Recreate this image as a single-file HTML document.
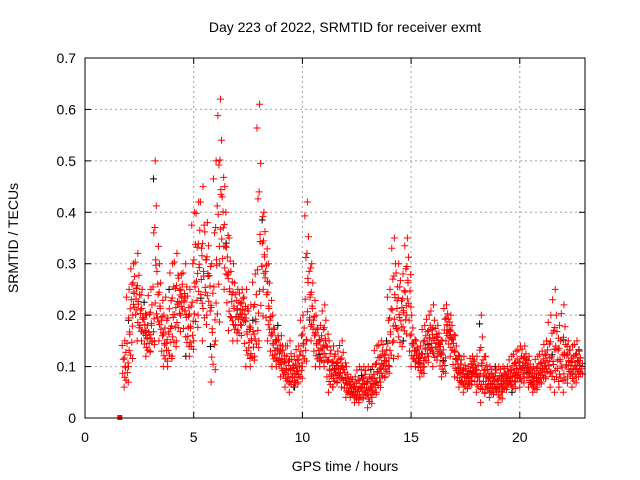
<!DOCTYPE html>
<html><head><meta charset="utf-8"><style>
html,body{margin:0;padding:0;background:#fff;}
svg{display:block;font-family:"Liberation Sans",sans-serif;}
</style></head><body>
<svg id="chart" width="640" height="480">
<text x="345" y="32" font-size="14" text-anchor="middle">Day 223 of 2022, SRMTID for receiver exmt</text>
<text x="345" y="471" font-size="14" text-anchor="middle">GPS time / hours</text>
<text transform="translate(18,238) rotate(-90)" font-size="14" text-anchor="middle">SRMTID / TECUs</text>
<g id="grid"></g>
<g id="ticks"></g>
<g id="marksBlack"></g>
<g id="marks"></g>
<rect x="85" y="58" width="500" height="360" fill="none" stroke="#000" stroke-width="1"/>
</svg>
<script>
const times=[1.8,2.0,2.2,2.4,2.6,2.8,3.0,3.2,3.4,3.6,3.8,4.0,4.2,4.4,4.6,4.8,5.0,5.2,5.4,5.6,5.8,6.0,6.2,6.4,6.6,6.8,7.0,7.2,7.4,7.6,7.8,8.0,8.2,8.4,8.6,8.8,9.0,9.2,9.4,9.6,9.8,10.0,10.2,10.4,10.6,10.8,11.0,11.2,11.4,11.6,11.8,12.0,12.2,12.4,12.6,12.8,13.0,13.2,13.4,13.6,13.8,14.0,14.2,14.4,14.6,14.8,15.0,15.2,15.4,15.6,15.8,16.0,16.2,16.4,16.6,16.8,17.0,17.2,17.4,17.6,17.8,18.0,18.2,18.4,18.6,18.8,19.0,19.2,19.4,19.6,19.8,20.0,20.2,20.4,20.6,20.8,21.0,21.2,21.4,21.6,21.8,22.0,22.2,22.4,22.6,22.7];
const loVals=[0.06,0.10,0.20,0.15,0.15,0.12,0.13,0.15,0.15,0.10,0.10,0.12,0.15,0.20,0.12,0.12,0.15,0.20,0.15,0.20,0.07,0.15,0.30,0.25,0.17,0.15,0.15,0.18,0.10,0.10,0.12,0.15,0.25,0.15,0.10,0.10,0.08,0.06,0.05,0.06,0.07,0.10,0.15,0.15,0.10,0.10,0.10,0.05,0.06,0.07,0.06,0.04,0.04,0.03,0.03,0.04,0.02,0.04,0.05,0.07,0.08,0.10,0.15,0.12,0.15,0.20,0.10,0.10,0.08,0.10,0.12,0.10,0.12,0.08,0.15,0.12,0.08,0.06,0.05,0.06,0.08,0.05,0.03,0.05,0.04,0.05,0.03,0.05,0.06,0.05,0.07,0.06,0.08,0.06,0.05,0.06,0.07,0.08,0.06,0.05,0.06,0.05,0.08,0.06,0.08,0.08];
const hiVals=[0.15,0.25,0.30,0.32,0.25,0.20,0.25,0.50,0.30,0.20,0.25,0.30,0.32,0.28,0.30,0.25,0.40,0.42,0.45,0.38,0.30,0.50,0.62,0.45,0.35,0.30,0.25,0.25,0.25,0.22,0.28,0.61,0.40,0.30,0.20,0.18,0.16,0.14,0.15,0.12,0.14,0.20,0.42,0.30,0.20,0.18,0.22,0.15,0.14,0.13,0.15,0.10,0.08,0.08,0.10,0.10,0.10,0.10,0.14,0.15,0.15,0.25,0.35,0.30,0.28,0.35,0.20,0.15,0.14,0.18,0.20,0.22,0.18,0.15,0.22,0.20,0.16,0.12,0.12,0.10,0.12,0.12,0.20,0.12,0.10,0.10,0.10,0.10,0.10,0.12,0.13,0.14,0.14,0.12,0.10,0.12,0.13,0.15,0.20,0.25,0.18,0.22,0.15,0.14,0.15,0.13];
const xTicks=[0,5,10,15,20];
const yTicks=[0,0.1,0.2,0.3,0.4,0.5,0.6,0.7];
const NS='http://www.w3.org/2000/svg';
const X0=85,X1=585,Y0=418,Y1=58,XMAX=23,YMAX=0.7;
const sx=v=>X0+v/XMAX*(X1-X0);
const sy=v=>Y0-v/YMAX*(Y0-Y1);
const grid=document.getElementById('grid'),ticks=document.getElementById('ticks'),marks=document.getElementById('marks'),marksB=document.getElementById('marksBlack');
function mk(tag,attrs,parent){const e=document.createElementNS(NS,tag);for(const k in attrs)e.setAttribute(k,attrs[k]);parent.appendChild(e);return e;}
yTicks.forEach(v=>{
  const y=sy(v);
  if(v>0&&v<YMAX){const g=mk('line',{x1:X0,x2:X1,y1:y,y2:y,stroke:'#a0a0a0','stroke-dasharray':'2,3','stroke-width':1},grid);
  
  }
  mk('line',{x1:X0,x2:X0+6,y1:y,y2:y,stroke:'#000'},ticks);
  mk('line',{x1:X1,x2:X1-6,y1:y,y2:y,stroke:'#000'},ticks);
  const t=mk('text',{x:X0-9,y:y+5,'font-size':14,'text-anchor':'end'},ticks);t.textContent=v===0?'0':v.toFixed(1);
  
  
});
xTicks.forEach(v=>{
  const x=sx(v);
  if(v>0){const g=mk('line',{x1:x,x2:x,y1:Y0,y2:Y1,stroke:'#a0a0a0','stroke-dasharray':'2,3','stroke-width':1},grid);
  
  }
  mk('line',{x1:x,x2:x,y1:Y0,y2:Y0-6,stroke:'#000'},ticks);
  mk('line',{x1:x,x2:x,y1:Y1,y2:Y1+6,stroke:'#000'},ticks);
  const t=mk('text',{x:x,y:Y0+24,'font-size':14,'text-anchor':'middle'},ticks);t.textContent=v;
  
  
});
function plus(x,y,c,parent){
  const p=mk('path',{d:`M${x-3.5} ${y}h7M${x} ${y-3.5}v7`,stroke:c,'stroke-width':1,fill:'none'},parent);
  
  
}
const sq=mk('rect',{x:sx(1.6)-2.5,y:sy(0)-3,width:5,height:5,fill:'#f00'},marks);


const fr=[0,0.15,0.3,0.45,0.6,0.75,0.9,1];
const dx=[0,0.09,-0.07,0.05,-0.04,0.08,-0.09,0.03];
let n=0;
times.forEach((t,i)=>{
  const lo=loVals[i],hi=hiVals[i];
  fr.forEach((f,j)=>{
    const v=lo+(hi-lo)*f;
    const black=(n++%25===12);
    if(black) plus(sx(t+dx[j]+0.04),sy(v),'#000',marksB);
    else plus(sx(t+dx[j]),sy(v),'#f00',marks);
    if(j>0&&j<7){plus(sx(t+dx[j]+0.1),sy(lo+(hi-lo)*f*0.7),'#f00',marks);}
  });
});
</script>
</body></html>
